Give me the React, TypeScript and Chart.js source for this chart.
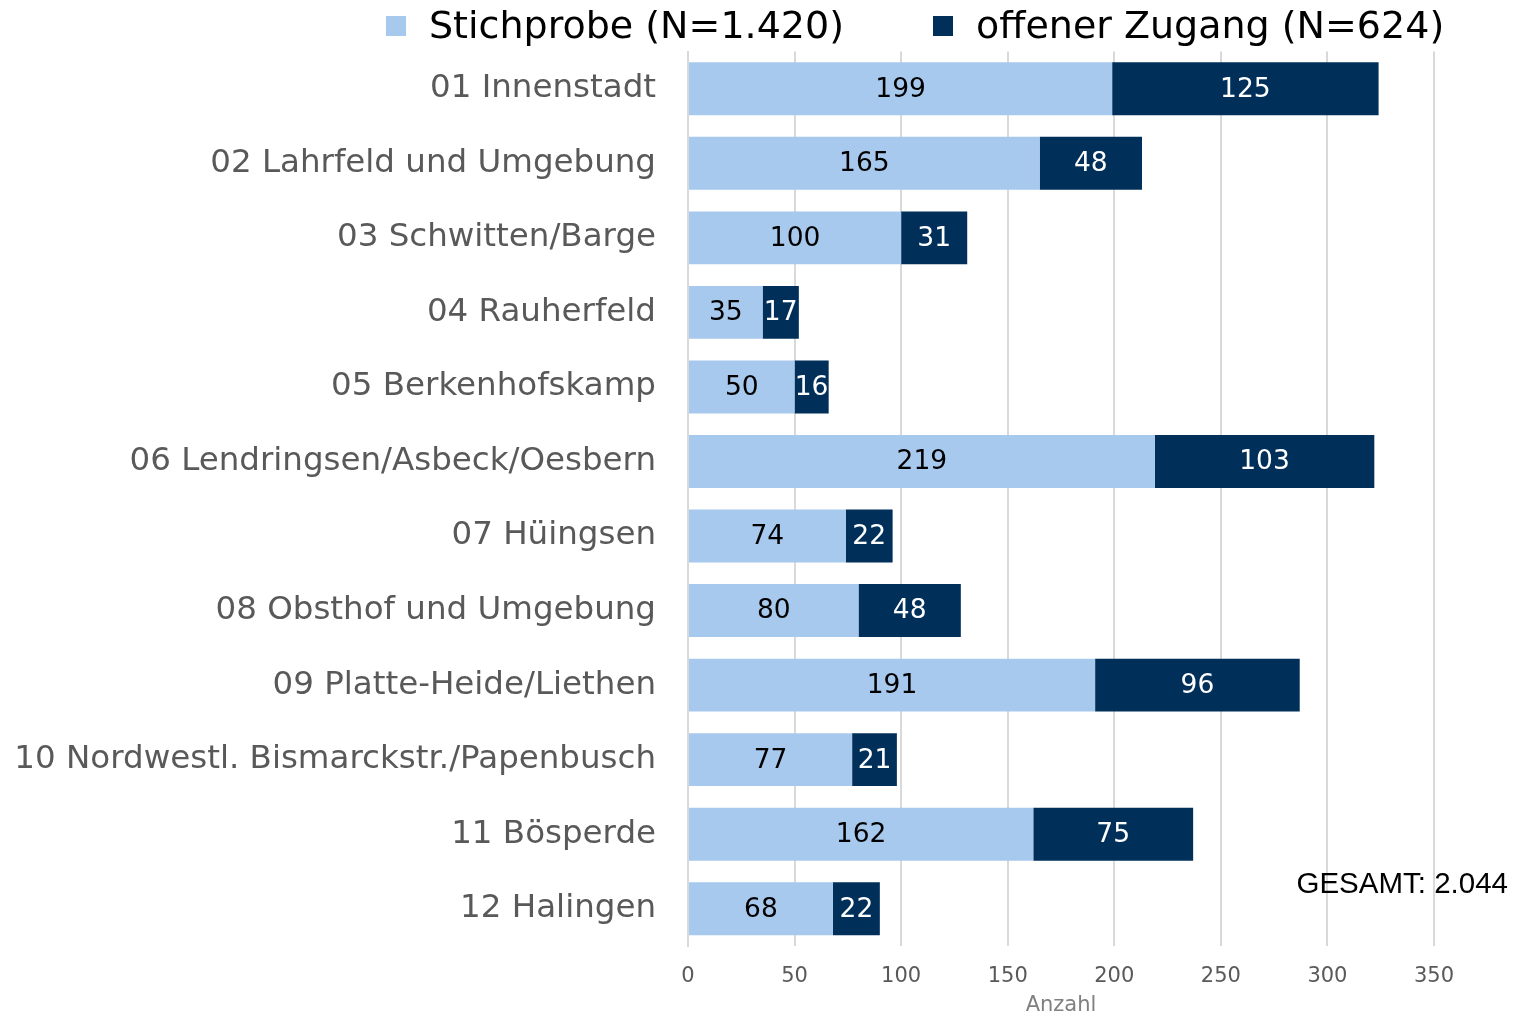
import React, { useEffect, useRef } from "react";
import { Chart, registerables } from "chart.js";

Chart.register(...registerables);

const categories = [
  "01 Innenstadt",
  "02 Lahrfeld und Umgebung",
  "03 Schwitten/Barge",
  "04 Rauherfeld",
  "05 Berkenhofskamp",
  "06 Lendringsen/Asbeck/Oesbern",
  "07 Hüingsen",
  "08 Obsthof und Umgebung",
  "09 Platte-Heide/Liethen",
  "10 Nordwestl. Bismarckstr./Papenbusch",
  "11 Bösperde",
  "12 Halingen",
];
const stichprobe = [199, 165, 100, 35, 50, 219, 74, 80, 191, 77, 162, 68];
const offenerZugang = [125, 48, 31, 17, 16, 103, 22, 48, 96, 21, 75, 22];
const seriesNames = ["Stichprobe", "offener Zugang"];
const xMin = 0;
const xMax = 350;
const xStep = 50;
const axisTitle = "Anzahl";
const totalLabel = "GESAMT";

const LIGHT = "#A8C9EE";
const DARK = "#00305A";
const FONT = '"DejaVu Sans", Verdana, sans-serif';

const sum = (a: number[]) => a.reduce((s, v) => s + v, 0);
const fmt = (n: number) => String(n).replace(/\B(?=(\d{3})+(?!\d))/g, ".");

export default function App() {
  const ref = useRef<HTMLCanvasElement | null>(null);

  useEffect(() => {
    if (!ref.current) return;

    const valueLabels = {
      id: "valueLabels",
      afterDatasetsDraw(chart: any) {
        const ctx = chart.ctx;
        ctx.save();
        ctx.font = `26.5px ${FONT}`;
        ctx.textAlign = "center";
        ctx.textBaseline = "middle";
        chart.data.datasets.forEach((ds: any, di: number) => {
          const meta = chart.getDatasetMeta(di);
          meta.data.forEach((el: any, i: number) => {
            const p = el.getProps(["x", "y", "base"], true);
            ctx.fillStyle = di === 0 ? "#000000" : "#FFFFFF";
            ctx.fillText(String(ds.data[i]), (p.x + p.base) / 2, p.y + 1);
          });
        });
        ctx.restore();
      },
    };

    const customLegend = {
      id: "customLegend",
      afterDraw(chart: any) {
        const ctx = chart.ctx;
        ctx.save();
        ctx.font = `38px ${FONT}`;
        ctx.textBaseline = "middle";
        ctx.textAlign = "left";
        const items = [
          { text: `${seriesNames[0]} (N=${fmt(sum(stichprobe))})`, color: LIGHT, x: 386 },
          { text: `${seriesNames[1]} (N=${fmt(sum(offenerZugang))})`, color: DARK, x: 933 },
        ];
        items.forEach((it) => {
          ctx.fillStyle = it.color;
          ctx.fillRect(it.x, 16, 20, 20);
          ctx.fillStyle = "#000000";
          ctx.fillText(it.text, it.x + 43, 28);
        });
        ctx.font = `29.5px "Liberation Sans", Arial, sans-serif`;
        ctx.textAlign = "right";
        ctx.fillText(`${totalLabel}: ${fmt(sum(stichprobe) + sum(offenerZugang))}`, 1508, 885);
        ctx.restore();
      },
    };

    const chart = new Chart(ref.current, {
      type: "bar",
      data: {
        labels: categories,
        datasets: [
          {
            label: seriesNames[0],
            data: stichprobe,
            backgroundColor: LIGHT,
            barPercentage: 0.71,
            categoryPercentage: 1,
          },
          {
            label: seriesNames[1],
            data: offenerZugang,
            backgroundColor: DARK,
            barPercentage: 0.71,
            categoryPercentage: 1,
          },
        ],
      },
      options: {
        indexAxis: "y",
        responsive: false,
        animation: false,
        layout: { padding: { left: 0, right: 81, top: 48, bottom: 0 } },
        plugins: {
          legend: { display: false },
          tooltip: { enabled: false },
        },
        scales: {
          x: {
            stacked: true,
            min: xMin,
            max: xMax,
            ticks: {
              stepSize: xStep,
              color: "#595959",
              font: { family: FONT, size: 21 },
              padding: 18,
            },
            grid: { color: "#D9D9D9", lineWidth: 2, drawTicks: false },
            border: { display: false },
            title: {
              display: true,
              text: axisTitle,
              color: "#808080",
              font: { family: FONT, size: 21 },
              padding: { top: 4, bottom: 0 },
            },
            afterFit: (scale: any) => {
              scale.height = 72;
            },
          },
          y: {
            stacked: true,
            ticks: {
              color: "#595959",
              font: { family: FONT, size: 32.5 },
              padding: 32,
            },
            grid: { display: false, drawTicks: false },
            border: { display: true, color: "#D9D9D9", width: 2 },
            afterFit: (scale: any) => {
              scale.width = 688;
            },
          },
        },
      },
      plugins: [valueLabels, customLegend],
    } as any);

    return () => chart.destroy();
  }, []);

  return (
    <canvas
      ref={ref}
      width={1515}
      height={1018}
      style={{ position: "absolute", left: 0, top: 0, display: "block", width: 1515, height: 1018 }}
    />
  );
}
